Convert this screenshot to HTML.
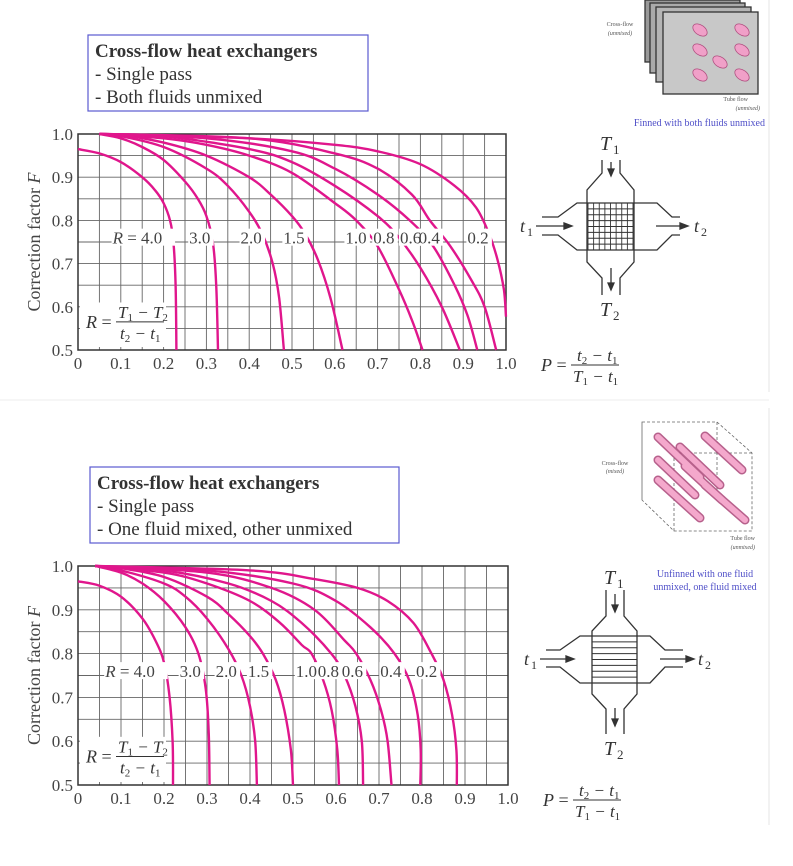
<!DOCTYPE html>
<html><head><meta charset="utf-8">
<style>
body{margin:0;background:#fff;width:793px;height:866px;overflow:hidden;font-family:"Liberation Serif",serif;}
svg{position:absolute;left:0;top:0}
</style></head>
<body>
<svg id="s" width="793" height="866" viewBox="0 0 793 866">
<line x1="769" y1="0" x2="769" y2="392" stroke="#e4e4e4"/>
<line x1="769" y1="408" x2="769" y2="825" stroke="#e4e4e4"/>
<line x1="0" y1="400" x2="769" y2="400" stroke="#eee"/>
<g>
<rect x="88" y="35" width="280" height="76" fill="#fff" stroke="#5a5ad0" stroke-width="1.2"/>
<text x="95" y="57" font-size="19" font-weight="bold" fill="#333">Cross-flow heat exchangers</text>
<text x="95" y="80" font-size="19" fill="#333">-  Single pass</text>
<text x="95" y="103" font-size="19" fill="#333">-  Both fluids unmixed</text>
</g>
<g>
<rect x="90" y="467" width="309" height="76" fill="#fff" stroke="#5a5ad0" stroke-width="1.2"/>
<text x="97" y="489" font-size="19" font-weight="bold" fill="#333">Cross-flow heat exchangers</text>
<text x="97" y="512" font-size="19" fill="#333">-  Single pass</text>
<text x="97" y="535" font-size="19" fill="#333">-  One fluid mixed, other unmixed</text>
</g>
<g id="charts"></g>
<g stroke="#333" fill="none" stroke-width="1.3">
<g>
<rect x="645" y="0" width="95" height="62" fill="#999"/>
<rect x="650" y="3" width="95" height="70" fill="#aaa"/>
<rect x="656" y="7" width="95" height="75" fill="#b5b5b5"/>
<rect x="663" y="12" width="95" height="82" fill="#c8c8c8"/>
<g fill="#f0a0c8" stroke="#b05080" stroke-width="0.8">
<ellipse cx="700" cy="30" rx="8" ry="5" transform="rotate(35 700 30)"/>
<ellipse cx="742" cy="30" rx="8" ry="5" transform="rotate(35 742 30)"/>
<ellipse cx="700" cy="50" rx="8" ry="5" transform="rotate(35 700 50)"/>
<ellipse cx="742" cy="50" rx="8" ry="5" transform="rotate(35 742 50)"/>
<ellipse cx="720" cy="62" rx="8" ry="5" transform="rotate(35 720 62)"/>
<ellipse cx="700" cy="75" rx="8" ry="5" transform="rotate(35 700 75)"/>
<ellipse cx="742" cy="75" rx="8" ry="5" transform="rotate(35 742 75)"/>
</g>
<text x="620" y="26" font-size="6" fill="#555" stroke="none" text-anchor="middle">Cross-flow</text>
<text x="620" y="35" font-size="6" fill="#555" stroke="none" text-anchor="middle" font-style="italic">(unmixed)</text>
<text x="748" y="101" font-size="6" fill="#555" stroke="none" text-anchor="end">Tube flow</text>
<text x="760" y="110" font-size="6" fill="#555" stroke="none" text-anchor="end" font-style="italic">(unmixed)</text>
</g>
<text x="765" y="126" font-size="10" fill="#5050c8" stroke="none" text-anchor="end">Finned with both fluids unmixed</text>
<path d="M602 160 V173 L587 190 V262 L602 278 V295 M620 160 V173 L634 190 V262 L620 278 V295"/>
<path d="M542 217 H558 L577 203 H657 L672 217 H680 M542 235 H558 L577 250 H657 L672 235 H680"/>
<path d="M611 162 V172 M611 268 V286 M536 226 H568 M656 226 H685"/>
<path d="M611 176 l-3 -7 h6z M611 290 l-3 -7 h6z M572 226 l-8 -3 v6z M688 226 l-8 -3 v6z" fill="#333"/>
<g id="mesh" stroke-width="0.9"></g>
<text x="600" y="150" font-size="20" font-style="italic" fill="#333" stroke="none">T</text><text x="613" y="154" font-size="13" fill="#333" stroke="none">1</text>
<text x="600" y="316" font-size="20" font-style="italic" fill="#333" stroke="none">T</text><text x="613" y="320" font-size="13" fill="#333" stroke="none">2</text>
<text x="520" y="232" font-size="18" font-style="italic" fill="#333" stroke="none">t</text><text x="527" y="236" font-size="12" fill="#333" stroke="none">1</text>
<text x="694" y="232" font-size="18" font-style="italic" fill="#333" stroke="none">t</text><text x="701" y="236" font-size="12" fill="#333" stroke="none">2</text>
</g>
<g stroke="#333" fill="none" stroke-width="1.3">
<g>
<path d="M642 422 H717 L752 453 V531 H674 L642 500 Z M642 422 V500 M674 453 H752 M674 453 V531 M717 422 V500" stroke="#666" stroke-dasharray="3 2" stroke-width="0.8"/>
<g stroke="#b05080" stroke-width="9" stroke-linecap="round" opacity="0.9">
<line x1="658" y1="437" x2="700" y2="477"/>
<line x1="680" y1="447" x2="720" y2="485"/>
<line x1="705" y1="436" x2="742" y2="470"/>
<line x1="658" y1="460" x2="695" y2="495"/>
<line x1="685" y1="466" x2="722" y2="500"/>
<line x1="658" y1="480" x2="700" y2="518"/>
<line x1="705" y1="485" x2="745" y2="520"/>
</g>
<g stroke="#f4a8cc" stroke-width="6" stroke-linecap="round">
<line x1="658" y1="437" x2="700" y2="477"/>
<line x1="680" y1="447" x2="720" y2="485"/>
<line x1="705" y1="436" x2="742" y2="470"/>
<line x1="658" y1="460" x2="695" y2="495"/>
<line x1="685" y1="466" x2="722" y2="500"/>
<line x1="658" y1="480" x2="700" y2="518"/>
<line x1="705" y1="485" x2="745" y2="520"/>
</g>
<text x="615" y="465" font-size="6" fill="#555" stroke="none" text-anchor="middle">Cross-flow</text>
<text x="615" y="473" font-size="6" fill="#555" stroke="none" text-anchor="middle" font-style="italic">(mixed)</text>
<text x="755" y="540" font-size="6" fill="#555" stroke="none" text-anchor="end">Tube flow</text>
<text x="755" y="549" font-size="6" fill="#555" stroke="none" text-anchor="end" font-style="italic">(unmixed)</text>
</g>
<text x="705" y="577" font-size="10" fill="#5050c8" stroke="none" text-anchor="middle">Unfinned with one fluid</text>
<text x="705" y="590" font-size="10" fill="#5050c8" stroke="none" text-anchor="middle">unmixed, one fluid mixed</text>
<path d="M606 590 V616 L592 631 V694 L606 709 V734 M624 590 V616 L637 631 V694 L624 709 V734"/>
<path d="M546 650 H560 L580 636 H650 L665 650 H683 M546 667 H560 L580 683 H650 L665 667 H683"/>
<path d="M615 594 V608 M615 708 V722 M540 659 H570 M660 659 H690"/>
<path d="M615 612 l-3 -7 h6z M615 726 l-3 -7 h6z M574 659 l-8 -3 v6z M694 659 l-8 -3 v6z" fill="#333"/>
<g id="lines2" stroke-width="0.9"></g>
<text x="604" y="584" font-size="20" font-style="italic" fill="#333" stroke="none">T</text><text x="617" y="588" font-size="13" fill="#333" stroke="none">1</text>
<text x="604" y="755" font-size="20" font-style="italic" fill="#333" stroke="none">T</text><text x="617" y="759" font-size="13" fill="#333" stroke="none">2</text>
<text x="524" y="665" font-size="18" font-style="italic" fill="#333" stroke="none">t</text><text x="531" y="669" font-size="12" fill="#333" stroke="none">1</text>
<text x="698" y="665" font-size="18" font-style="italic" fill="#333" stroke="none">t</text><text x="705" y="669" font-size="12" fill="#333" stroke="none">2</text>
</g>
</svg>
<script>
const xTicks = ["0","0.1","0.2","0.3","0.4","0.5","0.6","0.7","0.8","0.9","1.0"];
const yTicks = ["0.5","0.6","0.7","0.8","0.9","1.0"];
const rLabels = ["4.0","3.0","2.0","1.5","1.0","0.8","0.6","0.4","0.2"];
const topR40 = [[0,0.965],[0.05,0.955],[0.1,0.935],[0.15,0.9],[0.18,0.87],[0.2,0.84],[0.215,0.8],[0.223,0.75],[0.228,0.65],[0.23,0.5]];
const topR30 = [[0.05,1],[0.1,0.99],[0.15,0.97],[0.2,0.94],[0.25,0.89],[0.28,0.85],[0.3,0.81],[0.315,0.75],[0.323,0.65],[0.327,0.5]];
const topR20 = [[0.05,1],[0.1,0.995],[0.2,0.97],[0.3,0.92],[0.35,0.88],[0.4,0.82],[0.43,0.77],[0.455,0.7],[0.47,0.62],[0.481,0.5]];
const topR15 = [[0.05,1],[0.1,0.998],[0.2,0.98],[0.3,0.95],[0.4,0.9],[0.45,0.86],[0.5,0.81],[0.53,0.77],[0.56,0.71],[0.59,0.62],[0.618,0.5]];
const topR10 = [[0.05,1],[0.2,0.99],[0.3,0.975],[0.4,0.95],[0.5,0.91],[0.6,0.84],[0.65,0.8],[0.7,0.74],[0.75,0.64],[0.78,0.57],[0.805,0.5]];
const topR08 = [[0.05,1],[0.2,0.995],[0.4,0.965],[0.5,0.935],[0.6,0.88],[0.7,0.81],[0.75,0.76],[0.8,0.69],[0.85,0.6],[0.892,0.5]];
const topR06 = [[0.05,1],[0.3,0.99],[0.5,0.96],[0.6,0.92],[0.7,0.86],[0.775,0.8],[0.83,0.74],[0.88,0.65],[0.91,0.58],[0.933,0.5]];
const topR04 = [[0.05,1],[0.4,0.99],[0.6,0.955],[0.7,0.92],[0.78,0.86],[0.822,0.8],[0.87,0.74],[0.92,0.66],[0.95,0.6],[0.977,0.5]];
const topR02 = [[0.05,1],[0.4,0.99],[0.6,0.975],[0.7,0.96],[0.8,0.93],[0.88,0.88],[0.93,0.83],[0.96,0.77],[0.98,0.71],[0.995,0.64],[1.0,0.577]];
const botR40 = [[0,0.965],[0.05,0.955],[0.1,0.93],[0.15,0.88],[0.18,0.83],[0.2,0.78],[0.213,0.7],[0.22,0.6],[0.221,0.5]];
const botR30 = [[0.04,1],[0.1,0.985],[0.15,0.96],[0.2,0.92],[0.25,0.86],[0.28,0.8],[0.297,0.72],[0.304,0.62],[0.306,0.5]];
const botR20 = [[0.04,1],[0.1,0.99],[0.2,0.96],[0.25,0.93],[0.3,0.88],[0.35,0.81],[0.38,0.75],[0.4,0.68],[0.412,0.6],[0.416,0.5]];
const botR15 = [[0.04,1],[0.1,0.995],[0.2,0.975],[0.3,0.93],[0.35,0.89],[0.4,0.84],[0.43,0.8],[0.46,0.74],[0.48,0.67],[0.495,0.58],[0.5,0.5]];
const botR10 = [[0.04,1],[0.2,0.985],[0.3,0.96],[0.4,0.92],[0.47,0.87],[0.52,0.82],[0.543,0.8],[0.57,0.74],[0.59,0.67],[0.603,0.58],[0.607,0.5]];
const botR08 = [[0.04,1],[0.2,0.99],[0.35,0.96],[0.45,0.92],[0.52,0.87],[0.589,0.8],[0.62,0.75],[0.645,0.68],[0.66,0.6],[0.663,0.5]];
const botR06 = [[0.04,1],[0.3,0.985],[0.45,0.95],[0.55,0.9],[0.62,0.83],[0.647,0.8],[0.68,0.74],[0.705,0.67],[0.72,0.6],[0.729,0.5]];
const botR04 = [[0.04,1],[0.3,0.99],[0.5,0.96],[0.6,0.92],[0.68,0.86],[0.736,0.8],[0.77,0.74],[0.79,0.66],[0.797,0.58],[0.796,0.5]];
const botR02 = [[0.04,1],[0.4,0.99],[0.55,0.97],[0.65,0.95],[0.72,0.92],[0.78,0.87],[0.822,0.8],[0.85,0.74],[0.87,0.66],[0.88,0.58],[0.881,0.5]];
const topSeries = [topR40,topR30,topR20,topR15,topR10,topR08,topR06,topR04,topR02];
const botSeries = [botR40,botR30,botR20,botR15,botR10,botR08,botR06,botR04,botR02];

const NS="http://www.w3.org/2000/svg";
function mk(tag,attrs,parent){const e=document.createElementNS(NS,tag);for(const k in attrs)e.setAttribute(k,attrs[k]);parent.appendChild(e);return e;}
function interp(pts,F){for(let i=0;i<pts.length-1;i++){const a=pts[i],b=pts[i+1];if((a[1]-F)*(b[1]-F)<=0&&a[1]!==b[1]){return a[0]+(b[0]-a[0])*(F-a[1])/(b[1]-a[1]);}}return null;}
function smooth(P){
  let d='M'+P[0][0].toFixed(1)+' '+P[0][1].toFixed(1);
  for(let i=0;i<P.length-1;i++){
    const p0=P[Math.max(0,i-1)],p1=P[i],p2=P[i+1],p3=P[Math.min(P.length-1,i+2)];
    const c1=[p1[0]+(p2[0]-p0[0])/6,p1[1]+(p2[1]-p0[1])/6];
    const c2=[p2[0]-(p3[0]-p1[0])/6,p2[1]-(p3[1]-p1[1])/6];
    d+=' C'+c1.map(v=>v.toFixed(1)).join(' ')+' '+c2.map(v=>v.toFixed(1)).join(' ')+' '+p2.map(v=>v.toFixed(1)).join(' ');
  }
  return d;
}

function drawChart(id,x0,x1,y0,y1,series){
  const root=document.getElementById('charts');
  const g=mk('g',{},root);
  
  
  const xs=p=>x0+(x1-x0)*p;
  const ys=f=>y1-(y1-y0)*(f-0.5)/0.5;
  for(let i=0;i<=20;i++){
    const l=mk('line',{x1:xs(i/20),x2:xs(i/20),y1:ys(1),y2:ys(0.5),stroke:'#666','stroke-width':0.9},g);
    
    
  }
  for(let i=0;i<=10;i++){
    const m=mk('line',{x1:xs(0),x2:xs(1),y1:ys(0.5+i*0.05),y2:ys(0.5+i*0.05),stroke:'#666','stroke-width':0.9},g);
    
    
  }
  const fr=mk('rect',{x:xs(0),y:ys(1),width:xs(1)-xs(0),height:ys(0.5)-ys(1),fill:'none',stroke:'#333','stroke-width':1.5},g);
  
  
  xTicks.forEach((t,i)=>{const e=mk('text',{x:xs(+t),y:ys(0.5)+19,'font-size':17,'text-anchor':'middle',fill:'#444'},g);e.textContent=t;
    
    });
  yTicks.forEach((t,i)=>{const e=mk('text',{x:xs(0)-5,y:ys(+t)+6,'font-size':17,'text-anchor':'end',fill:'#444'},g);e.textContent=t;
    
    });
  const yt=mk('text',{x:0,y:0,'font-size':18,'text-anchor':'middle',fill:'#444',transform:`translate(40 ${ys(0.75)}) rotate(-90)`},g);
  yt.innerHTML='Correction factor <tspan font-style="italic">F</tspan>';
  
  
  const fg=mk('g',{},g);
  
  
  mk('rect',{x:xs(0)+2,y:ys(0.61),width:86,height:ys(0.5)-ys(0.61)-3,fill:'#fff'},fg);
  const fy=ys(0.565);
  let t=mk('text',{x:xs(0)+8,y:fy+6,'font-size':18,fill:'#333'},fg);t.innerHTML='<tspan font-style="italic">R</tspan> =';
  mk('line',{x1:xs(0)+38,x2:xs(0)+86,y1:fy,y2:fy,stroke:'#333'},fg);
  t=mk('text',{x:xs(0)+40,y:fy-4,'font-size':17,fill:'#333','font-style':'italic'},fg);t.innerHTML='T<tspan font-size="11" font-style="normal" dy="3">1</tspan><tspan dy="-3"> − T</tspan><tspan font-size="11" font-style="normal" dy="3">2</tspan>';
  t=mk('text',{x:xs(0)+42,y:fy+17,'font-size':17,fill:'#333','font-style':'italic'},fg);t.innerHTML='t<tspan font-size="11" font-style="normal" dy="3">2</tspan><tspan dy="-3"> − t</tspan><tspan font-size="11" font-style="normal" dy="3">1</tspan>';
  const pg=mk('g',{},g);
  
  
  const px=x1+35, py=ys(0.5)+15;
  t=mk('text',{x:px,y:py+6,'font-size':18,fill:'#333'},pg);t.innerHTML='<tspan font-style="italic">P</tspan> =';
  mk('line',{x1:px+30,x2:px+78,y1:py,y2:py,stroke:'#333'},pg);
  t=mk('text',{x:px+36,y:py-4,'font-size':17,fill:'#333','font-style':'italic'},pg);t.innerHTML='t<tspan font-size="11" font-style="normal" dy="3">2</tspan><tspan dy="-3"> − t</tspan><tspan font-size="11" font-style="normal" dy="3">1</tspan>';
  t=mk('text',{x:px+32,y:py+17,'font-size':17,fill:'#333','font-style':'italic'},pg);t.innerHTML='T<tspan font-size="11" font-style="normal" dy="3">1</tspan><tspan dy="-3"> − t</tspan><tspan font-size="11" font-style="normal" dy="3">1</tspan>';
  series.forEach((pts,k)=>{
    const d=smooth(pts.map(p=>[xs(p[0]),ys(p[1])]));
    const c=mk('path',{d,fill:'none',stroke:'#e0168c','stroke-width':2.4,'stroke-linejoin':'round'},g);
    
    
  });
  const labs=[];
  series.forEach((pts,k)=>{
    const P=interp(pts,0.77); if(P==null)return;
    const txt=(k===0?'R = ':'')+rLabels[k];
    const w=txt.length*8.5+(k===0?4:0);
    const lx=xs(P)-w+4, ly=ys(0.76);
    mk('rect',{x:lx-1,y:ly-9,width:w,height:17,fill:'#fff'},g);
    labs.push([lx,ly,k]);
  });
  labs.forEach(([lx,ly,k])=>{
    const e=mk('text',{x:lx,y:ly+6,'font-size':17,fill:'#444'},g);
    e.innerHTML=k===0?'<tspan font-style="italic">R</tspan> = '+rLabels[k]:rLabels[k];
    
    
  });
}
drawChart('chart-both-unmixed',78,506,134,350,topSeries);
drawChart('chart-one-mixed',78,508,566,785,botSeries);

const mesh=document.getElementById('mesh');
for(let i=0;i<=8;i++){mk('line',{x1:588+i*45/8,x2:588+i*45/8,y1:203,y2:250},mesh);mk('line',{x1:588,x2:633,y1:203+i*47/8,y2:203+i*47/8},mesh);}
const l2=document.getElementById('lines2');
for(let i=0;i<=8;i++){mk('line',{x1:592,x2:637,y1:636+i*47/8,y2:636+i*47/8},l2);}
</script>
</body></html>
